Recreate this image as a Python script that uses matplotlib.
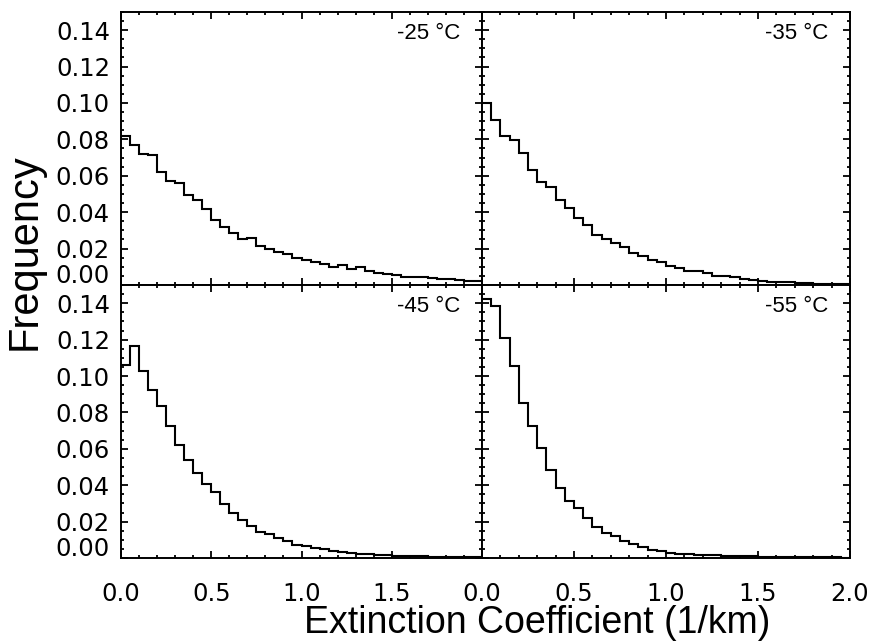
import numpy as np
import matplotlib
matplotlib.use("Agg")
import matplotlib.pyplot as plt
from matplotlib.ticker import MultipleLocator, FixedLocator, FixedFormatter
from matplotlib.transforms import ScaledTranslation

# histogram bins: 40 bins of 0.05 (1/km) from 0 to 2
bin_width = 0.05
edges = np.arange(41) * bin_width

temps = ["-25 °C", "-35 °C", "-45 °C", "-55 °C"]

freq_25 = [0.082, 0.0771, 0.0720, 0.0717, 0.0620, 0.0569, 0.0558, 0.0496, 0.0465, 0.0419,
           0.0356, 0.0319, 0.0283, 0.0255, 0.0257, 0.0215, 0.0200, 0.0182, 0.0173, 0.0150,
           0.0140, 0.0126, 0.0115, 0.0100, 0.0109, 0.0089, 0.0100, 0.0078, 0.0067, 0.0060,
           0.0053, 0.0046, 0.0046, 0.0042, 0.0038, 0.0035, 0.0031, 0.0027, 0.0024, 0.0020]
freq_35 = [0.1002, 0.0907, 0.0819, 0.0797, 0.0724, 0.0633, 0.0567, 0.0539, 0.0468, 0.0422,
           0.0367, 0.0329, 0.0274, 0.0252, 0.0229, 0.0210, 0.0174, 0.0161, 0.0139, 0.0124,
           0.0106, 0.0091, 0.0079, 0.0079, 0.0066, 0.0051, 0.0048, 0.0042, 0.0033, 0.0029,
           0.0022, 0.0018, 0.0015, 0.0015, 0.0011, 0.0011, 0.0008, 0.0007, 0.0005, 0.0004]
freq_45 = [0.106, 0.1164, 0.1029, 0.0924, 0.0833, 0.0727, 0.0620, 0.0538, 0.0469, 0.0405,
           0.0360, 0.0296, 0.0245, 0.0211, 0.0178, 0.0145, 0.0131, 0.0109, 0.0091, 0.0073,
           0.0064, 0.0055, 0.0047, 0.0036, 0.0031, 0.0029, 0.0024, 0.0020, 0.0016, 0.0015,
           0.0013, 0.0011, 0.0009, 0.0009, 0.0007, 0.0007, 0.0006, 0.0005, 0.0004, 0.0004]
freq_55 = [0.1424, 0.1383, 0.1211, 0.1057, 0.0850, 0.0725, 0.0607, 0.0481, 0.0382, 0.0314,
           0.0272, 0.0222, 0.0171, 0.0139, 0.0119, 0.0095, 0.0075, 0.0059, 0.0046, 0.0037,
           0.0029, 0.0024, 0.0020, 0.0018, 0.0016, 0.0015, 0.0013, 0.0011, 0.0009, 0.0009,
           0.0007, 0.0007, 0.0006, 0.0006, 0.0005, 0.0004, 0.0004, 0.0003, 0.0003, 0.0002]
series = [freq_25, freq_35, freq_45, freq_55]

yticks = [0.00, 0.02, 0.04, 0.06, 0.08, 0.10, 0.12, 0.14]
ytick_labels = ["0.00", "0.02", "0.04", "0.06", "0.08", "0.10", "0.12", "0.14"]
xticks = [0.0, 0.5, 1.0, 1.5, 2.0]
xlabels_left = ["0.0", "0.5", "1.0", "1.5", ""]   # 2.0 only written once, under right panel
xlabels_right = ["0.0", "0.5", "1.0", "1.5", "2.0"]

W, H = 871, 643
fig = plt.figure(figsize=(W / 100, H / 100), dpi=100)

# panel boxes in pixels (left, top, right, bottom)
boxes = [(121, 12, 482, 285), (482, 12, 850, 285),
         (121, 285, 482, 558), (482, 285, 850, 558)]

for k, (l, t, r, b) in enumerate(boxes):
    ax = fig.add_axes([l / W, 1 - b / H, (r - l) / W, (b - t) / H])
    ax.stairs(series[k], edges, baseline=None, color="k", lw=1.5)
    ax.set_xlim(0, 2)
    ax.set_ylim(0, 0.15)
    for s in ax.spines.values():
        s.set_linewidth(1.4)
    ax.tick_params(which="both", direction="in", top=True, right=True, width=1.3)
    ax.tick_params(which="major", length=5)
    ax.tick_params(which="minor", length=2.5)
    ax.xaxis.set_major_locator(FixedLocator(xticks))
    ax.yaxis.set_major_locator(FixedLocator(yticks))
    ax.xaxis.set_minor_locator(MultipleLocator(0.1))
    ax.yaxis.set_minor_locator(MultipleLocator(0.005))

    left = k % 2 == 0
    bottom = k >= 2
    if left:
        ax.yaxis.set_major_formatter(FixedFormatter(ytick_labels))
        ax.tick_params(axis="y", labelsize=17.5, pad=8)
        # the 0.00 label sits a bit above its tick
        lab0 = ax.get_yticklabels()[0]
        lab0.set_transform(lab0.get_transform() +
                           ScaledTranslation(0, 8 / 72, fig.dpi_scale_trans))
    else:
        ax.set_yticklabels([])
    if bottom:
        ax.set_xticklabels(xlabels_left if left else xlabels_right)
        ax.tick_params(axis="x", labelsize=17.5, pad=17)
    else:
        ax.set_xticklabels([])

    ax.text(0.94, 0.92, temps[k], transform=ax.transAxes, ha="right", va="center",
            fontsize=16, family="Liberation Sans")

fig.text(25 / W, 1 - 252 / H, "Frequency", rotation=90, ha="center", va="center",
         fontsize=30, family="Liberation Sans")
fig.text(537 / W, 1 - 633 / H, "Extinction Coefficient (1/km)", ha="center",
         va="baseline", fontsize=27, family="Liberation Sans")

fig.savefig("out.png", dpi=100)
